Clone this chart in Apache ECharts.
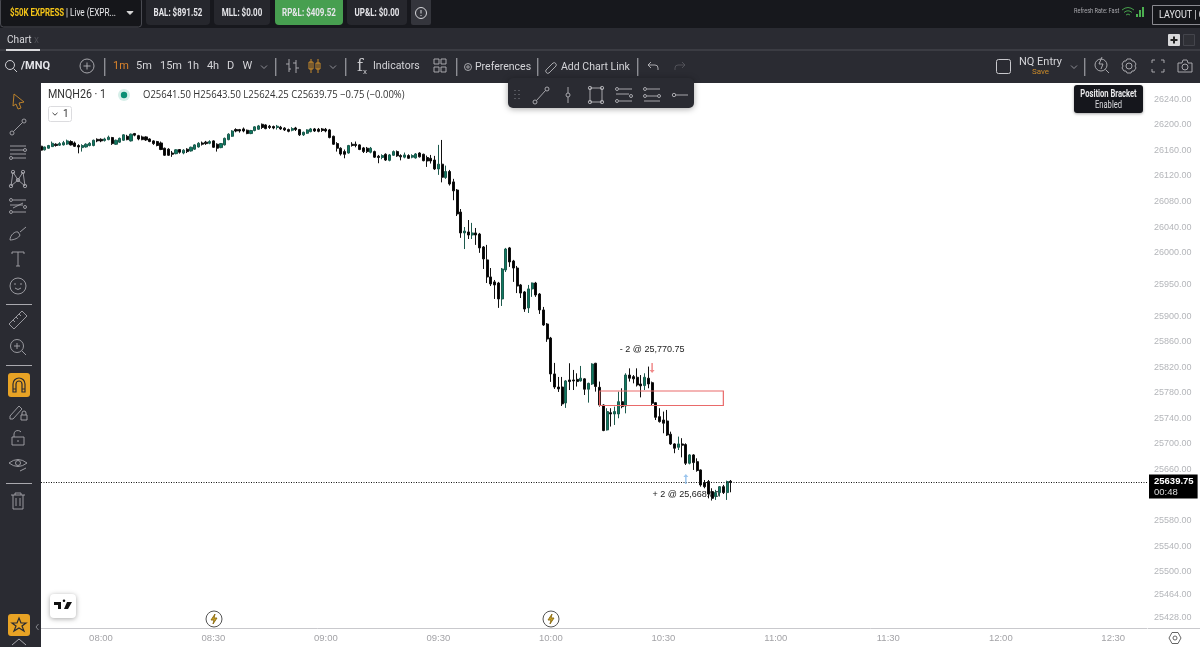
<!DOCTYPE html>
<html><head><meta charset="utf-8">
<style>html,body{margin:0;padding:0;background:#fff;overflow:hidden}#c{width:1200px;height:647px}</style>
<script src="https://cdn.jsdelivr.net/npm/echarts@6/dist/echarts.min.js"></script>
</head><body><div id="c"></div>
<script>
// ---- Chart data ----
const startMinute = 464; // 07:44
const slotCount = 296;
const opens = [26166.75,26161,26163.5,26166,26169.75,26168.25,26168.75,26170,26174,26171.75,26167.75,26164.5,26165.5,26167.75,26167.75,26177.5,26177.5,26175.5,26177,26180.25,26169.75,26173,26176,26182.25,26175,26186.5,26183.25,26181.25,26181.25,26178,26175,26174,26171.75,26163.5,26162,26156,26155,26161.5,26156,26162,26159.25,26162,26165.5,26171.75,26173,26171.25,26175,26169.75,26164.5,26168.75,26177,26182.25,26192.75,26192.75,26193.75,26191.75,26186.5,26191.25,26193.25,26201,26200,26198,26197.5,26196,
26196.5,26195,26192.75,26191.75,26195.25,26192.75,26184.5,26187,26189.5,26193.75,26193.25,26193.75,26193.25,26192.25,26182.25,26170.75,26163.5,26158.25,26156,26169.75,26169.75,26168.75,26164,26163.5,26157.25,26158.25,26151,26149,26154,26144.5,26152.5,26158.25,26152,26149.5,26152,26149.5,26148.25,26156,26154,26149,26147.75,26145,26131,26138.5,26117.5,26127,26110.75,
26098,26063.5,26030.75,26032.25,26027.5,26030.75,26029,26008.75,25988.5,25961.75,25954,25952.25,25927.25,25972.75,26007.25,25986.75,25975.75,25949.25,25938.25,25913.25,25943,25952.25,25935,25910,25888,25866,25809.75,25789.25,25789.25,25764.25,
25800.25,25800.25,25801.25,25798.75,25802,25785.75,25794,25826.5,25788.75,25761,25722,25749,25747,25747,25766.25,25759.5,25808,25805.5,25804.5,25794,25791.5,25803,25796,25764.75,25742.75,25737.5,25736,25715.25,25700,25694.75,25700,25699,25669.75,25682.75,25672.25,25659.25,25639.5,25641,25625.25,25617.5,25623.75,25633,25623.75,25641.5];
const closes = [26160.5,26165.5,26167.75,26171.25,26167.75,26170.75,26172.25,26175,26168.75,26166.5,26165.5,26167.75,26169.75,26171.25,26176,26175,26175,26178,26180.75,26170.75,26176,26179,26184.5,26177,26185.5,26184,26178,26177,26176.5,26174,26170.75,26167.75,26161.5,26152.5,26152.5,26154,26161,26157.25,26160.5,26158.25,26165,26168.75,26171.25,26169.75,26170.75,26174,26165,26163.5,26170.75,26179,26185.5,26190.5,26190.5,26190.5,26190.5,26186.5,26191.25,26197,26198.5,26196,26194.25,26196,26195.25,26198,
26193.75,26192.25,26190,26194.25,26192.75,26184.5,26188.5,26192.25,26193.75,26190.5,26190,26191.25,26190.5,26180.25,26169.75,26163.5,26154.5,26154,26167.75,26167.75,26167.75,26161.5,26158.25,26158.25,26163.5,26149.5,26149,26152,26145,26153,26158.25,26151.5,26150,26153,26147.75,26152,26154.5,26150,26144,26143.5,26143.5,26131,26138.5,26118,26127,26107.5,26096.75,
26060.5,26030.75,26033.75,26027.5,26030.75,26027.5,26007.25,25990,25961.75,25950.75,25949.25,25927.25,25974.25,26005.5,25985.25,25975.75,25947.5,25936.5,25911.5,25943,25952.25,25933.5,25910,25886.5,25864.5,25809.75,25789.25,25786.25,25762.75,25798.75,
25797.75,25798.75,25797.75,25803,25785.75,25795,25825.25,25790,25761,25721,25750.75,25747,25750.75,25766.25,25758.5,25808,25803,25802,25792.5,25791,25804.5,25794,25763.75,25741.75,25735,25732.5,25714,25700,25693.25,25700,25698,25669.75,25682.75,25670.75,25658.25,25635.75,25633,25621.5,25614.75,25623.75,25633,25623.75,25641,25639.75];
const lows = [26159.25,26160,26163,26165.5,26166,26167,26167.75,26168.75,26167.75,26165.5,26155.5,26158.25,26164.5,26166.5,26166.5,26173,26173,26174,26176,26168.75,26168.75,26172,26175,26176,26174,26182.25,26176,26176,26175,26173,26168.75,26166.5,26160.5,26151.5,26151.5,26150,26154,26155,26154,26156,26158.25,26161,26164.5,26167.75,26168.75,26169.75,26164,26158.25,26163.5,26167.75,26176,26181.25,26188.5,26188,26188.5,26185.5,26185.5,26190,26192.25,26193.75,26193.25,26193.75,26193.25,26192.75,
26192.25,26190.5,26188.5,26190,26190.5,26182.75,26182.75,26186,26188.5,26189,26188.5,26189,26188.5,26179,26168.75,26158.25,26152,26147.75,26155,26166,26165,26160.5,26156,26156,26155.5,26148.25,26140,26146.25,26143.5,26143,26151.5,26150,26144.5,26147.75,26146.75,26147.75,26147.25,26149,26143,26134.25,26139.5,26129.5,26121.75,26110,26115.5,26105,26082,
26057.25,26023,26005.5,26021.25,26021.25,26012,25999.5,25974.25,25952.25,25947.5,25927.25,25913.25,25916.25,25969.5,25977.5,25954,25936.5,25928.75,25907,25905.25,25930.5,25930.5,25903.75,25885,25860,25797.25,25786.25,25781.5,25759.5,25756.5,
25784.5,25784.5,25790,25797.75,25776.75,25764.75,25792.5,25782,25758.5,25720,25721,25727.25,25729.75,25740.25,25756,25748,25797.75,25795,25790,25773,25784.5,25787.25,25761,25737.5,25733.5,25716.75,25712.5,25698.5,25685.5,25690.5,25679,25667,25668,25659.25,25656.5,25633,25630.5,25614.75,25611.25,25612.25,25617.5,25621.5,25612.25,25624.25];
const highs = [26167.75,26166,26168.75,26174,26171.25,26173,26175,26177,26176,26174,26169.75,26169.75,26171.25,26173,26177,26179,26179,26180,26183.25,26181.25,26177,26180.25,26185.5,26184.5,26186.5,26187.5,26184.5,26183.25,26182.25,26179,26176,26175,26174,26164.5,26163.5,26159.25,26162,26162,26162,26163.5,26166,26169.75,26173,26174,26175,26176,26176,26171.25,26171.75,26180.25,26187,26191.75,26194.75,26193.75,26196,26192.75,26192.25,26198,26200,26202.25,26201,26200,26199,26200,
26198.5,26196.5,26194.25,26196.5,26197,26193.75,26189.5,26193.25,26195.25,26195.25,26195.25,26195.25,26195.25,26193.75,26183.25,26173,26165,26161.5,26168.75,26173,26174,26169.75,26165.5,26165.5,26165.5,26159.75,26153,26154,26155.5,26154.5,26160,26160,26154,26156.75,26154,26154,26156,26157.25,26155,26152,26153,26151.5,26168.75,26176.5,26136.25,26129.5,26115.5,
26099.5,26068.25,26040,26051,26046.5,26038.5,26030.75,26010.25,26012,25975.75,25957,25954,25975.75,26007.25,26008.75,25988.5,25979,25950.75,25939.75,25949.25,25953,25954,25936.5,25914.75,25889.5,25867.75,25827,25805,25805,25800.25,
25826.5,25816,25810.75,25822.25,25803,25796,25826.5,25827,25797.75,25762,25756,25756,25758.5,25782,25787.25,25810.75,25818.5,25808,25818.5,25808,25810.75,25821.25,25797.75,25765,25756,25750.75,25753.25,25719.25,25701,25711.5,25709,25701,25684,25684,25677.5,25660,25643.5,25643.5,25630.5,25628,25634,25635.75,25642.5,25643.5];
const yTicks = [26240,26200,26160,26120,26080,26040,26000,25950,25900,25860,25820,25780,25740,25700,25660,25580,25540,25500,25464,25428];
const lastPrice = 25639.75;
const lastCountdown = '00:48';
const zoneTop = 25783, zoneBottom = 25760.25, zoneStartIndex = 149, zoneEndIndex = 182;
const sellIndex = 163, buyIndex = 172;
const sellArrowPrice = 25819, buyArrowPrice = 25645;
const sellLabel = '- 2 @ 25,770.75', buyLabel = '+ 2 @ 25,668.00';
const sellLabelPrice = 25847.25, buyLabelPrice = 25621.5;

const categories = [];
for (let i = 0; i < slotCount; i++) {
  const m = startMinute + i;
  categories.push(String(Math.floor(m / 60)).padStart(2, '0') + ':' + String(m % 60).padStart(2, '0'));
}
const candleData = opens.map((o, i) => [o, closes[i], lows[i], highs[i]]);

// ---- Interface chrome helpers ----
const UI = 'Roboto, sans-serif';
const NARROW = 0.76;
const g = [];
let icoCount = 0;
const rect = (x, y, w, h, fill, o = {}) => g.push({type:'rect', z:o.z||100, silent:true, shape:{x,y,width:w,height:h,r:o.r||0}, style:{fill, stroke:o.stroke||null, lineWidth:o.lw||1, shadowBlur:o.blur||0, shadowColor:o.blur?'rgba(0,0,0,.35)':undefined, shadowOffsetY:o.blur?1:0}});
const txt = (x, y, s, o = {}) => g.push({type:'text', z:o.z||101, silent:true, x, y, scaleX:o.sx||1, style:{text:s, fill:o.c||'#d8d8dc', font:(o.w||'normal')+' '+(o.s||11)+'px '+(o.f||UI), textAlign:o.a||'left', textVerticalAlign:'middle'}});
const ico = (x, y, d, o = {}) => {
  const name = 'uiIcon' + (icoCount++);
  echarts.graphic.registerShape(name, echarts.graphic.extendPath(d, {}));
  g.push({type:name, z:o.z||101, silent:true, x, y, style:{fill:o.fill||'none', stroke:o.c===null?'none':(o.c||'#a6a6ab'), lineWidth:o.lw||0.9}});
};
const cc = (x, y, r) => `M${x-r},${y}a${r},${r} 0 1,0 ${2*r},0a${r},${r} 0 1,0 ${-2*r},0`;

const DARK = '#17181d', PANEL = '#2a2b32', PILL = '#26272d', SOFT = '#b4b4b9';
rect(0, 0, 1200, 28, DARK);
rect(0, 28, 1200, 55, PANEL);
rect(0, 49, 1200, 2, '#3b3c43');
rect(0, 83, 41, 564, PANEL);
// account bar
rect(0.5, -2, 141, 29, '#15161a', {stroke:'#4a4b52', r:3});
txt(10, 13, '$50K EXPRESS', {c:'#f5c518', w:'bold', s:10.5, sx:0.75});
txt(66, 13, '| Live (EXPR...', {c:'#e8e8ea', s:10.5, sx:0.78});
ico(130, 13, 'M-3,-1.5L3,-1.5L0,1.5Z', {c:'#ddd', fill:'#ddd'});
[[146,64,'BAL: $891.52'],[214,56,'MLL: $0.00'],[275,68,'RP&L: $409.52'],[347,60,'UP&L: $0.00']].forEach((p, i) => {
  rect(p[0], -3, p[1], 28, i === 2 ? '#479f50' : PILL, {r:4});
  txt(p[0] + p[1] / 2, 13, p[2], {a:'center', c:'#e6e6ea', w:'bold', s:10.5, sx:NARROW});
});
rect(411, -3, 20, 28, '#34353c', {r:2});
ico(421, 13, cc(0,0,5.5)+'M0,-3V0.5M0,2V3', {c:'#e6e6ea'});
txt(1074, 11, 'Refresh Rate: Fast', {s:8, c:'#a9a9ae', sx:0.7});
ico(1128, 12, 'M-6,-2Q0,-7 6,-2M-4,0.5Q0,-3 4,0.5M-2,3Q0,1 2,3', {c:'#4caf50'});
ico(1140, 12, 'M-3,5V2M0,5V-2M3,5V-5', {c:'#4caf50', lw:2});
rect(1152.5, 5.5, 60, 19, '#15161a', {stroke:'#8a8a90'});
txt(1159, 15, 'LAYOUT | C', {c:'#e8e8ea', s:11, sx:0.82});
// tab row
txt(7, 40, 'Chart', {c:'#d8d8dc', s:11.5, sx:0.88});
txt(34, 40, 'x', {c:'#4a4b52', s:10});
rect(6, 49, 34, 2, '#d9d9dc');
rect(1168, 34, 12, 12, '#d8d8da', {r:1});
ico(1174, 40, 'M-3.5,0H3.5M0,-3.5V3.5', {c:'#222', lw:2});
rect(1183.5, 34.5, 11, 11, '#2f3036', {stroke:'#44454c'});
// toolbar
ico(11, 66, cc(-1,-1,4.5)+'M2.5,2.5L6,6', {c:'#e0e0e4'});
txt(21, 66, '/MNQ', {c:'#e4e4e8', w:'bold', s:11});
ico(87, 66, cc(0,0,7)+'M-3.5,0H3.5M0,-3.5V3.5', {c:SOFT});
[104,275,345,456,537,637,1084].forEach(x => rect(x, 58, 1.4, 18, '#8d8e94'));
[['1m',121,'#d9822b'],['5m',144],['15m',171],['1h',193],['4h',213],['D',230.5],['W',247.5]].forEach(p => txt(p[1], 66, p[0], {a:'center', c:p[2]||'#d4d4d8', s:11}));
[264,333,1074].forEach(x => ico(x, 67, 'M-3,-1.5L0,1.5L3,-1.5', {c:'#9a9aa0'}));
ico(292, 66, 'M-3,-7V6M-3,-2H-6M-3,3H-1M4,-6V7M4,-3H1M4,2H7', {c:SOFT});
ico(314, 66, 'M-3,-7V7M-5,-4h4v7h-4zM4,-7V7M2,-3h4v6h-4z', {c:'#d9962b'});
txt(360, 67, 'f', {c:'#c8c8cc', s:16, f:'"DejaVu Serif", serif', a:'center'});
txt(365, 72, 'x', {c:'#c8c8cc', s:8, a:'center'});
txt(373, 66, 'Indicators', {c:'#d4d4d8', s:10.5});
ico(440, 66, 'M-6,-7h5v5h-5zM1,-7h5v5h-5zM-6,1h5v5h-5zM1,1h5v5h-5z', {c:SOFT});
ico(468, 67, cc(0,0,3.5)+cc(0,0,1.2), {c:SOFT});
txt(475, 67, 'Preferences', {c:'#d4d4d8', s:10.5});
ico(551, 67, 'M-5,3L2,-4a2.2,2.2 0 0 1 3,3L-2,6a2.2,2.2 0 0 1 -3,-3Z', {c:SOFT});
txt(561, 67, 'Add Chart Link', {c:'#d4d4d8', s:10.5});
ico(653, 66, 'M-5,-1H2a3,3 0 0 1 3,3V4M-5,-1L-2,-4M-5,-1L-2,2', {c:'#b8b8bc'});
ico(680, 66, 'M5,-1H-2a3,3 0 0 0 -3,3V4M5,-1L2,-4M5,-1L2,2', {c:'#55565c'});
rect(996.5, 59.5, 14, 14, PANEL, {stroke:'#c8c8cc', r:2});
txt(1040.5, 62, 'NQ Entry', {a:'center', c:'#d4d4d8', s:11});
txt(1040.5, 72, 'Save', {a:'center', c:'#c98a2a', s:8});
ico(1102, 65, cc(-1,0,6)+'M3.5,4.5L7,8M0,-8L-3,-1H1L-1,4', {c:SOFT});
ico(1129, 66, cc(0,0,3)+'M-2,-7H2L3,-5L5,-5L7,-2L6,0L7,2L5,5L3,5L2,7H-2L-3,5L-5,5L-7,2L-6,0L-7,-2L-5,-5L-3,-5Z', {c:SOFT});
ico(1158, 66, 'M-6,-3V-6H-3M3,-6H6V-3M6,3V6H3M-3,6H-6V3', {c:SOFT});
ico(1185, 66, 'M-7,-3H-3L-2,-6H2L3,-3H7V6H-7Z'+cc(0,1,3), {c:SOFT});
// side tools
ico(18, 101, 'M-4,-7L6,1L1,2L3,7L0,8L-2,3L-5,5Z', {c:'#c98a2a'});
ico(18, 127, cc(-6,6,2)+cc(6,-6,2)+'M-4.5,4.5L4.5,-4.5');
ico(18, 152, 'M-8,-6H8M-8,-2H6M-8,2H8M-6,6H8'+cc(7,-2,1.5)+cc(-7,6,1.5));
ico(18, 179, cc(-7,7,1.7)+cc(-5,-7,1.7)+cc(5,-7,1.7)+cc(7,7,1.7)+cc(0,1,1.7)+'M-7,7L-5,-7L0,1L5,-7L7,7M-7,7L0,1L7,7');
ico(18, 206, cc(-7,-6,1.5)+cc(-7,6,1.5)+cc(7,1,1.5)+'M-5,-6H8M-8,-1H5M-5,6H8M-5,2L5,-3');
ico(18, 233, 'M-8,7C-8,2 -3,-2 0,-1L2,2C1,5 -4,7 -8,7ZM2,-1L8,-6');
ico(18, 259, 'M-6,-7H6M0,-7V7M-2,7H2M-6,-7V-5M6,-7V-5');
ico(18, 286, cc(0,0,8)+'M-3,-3V-1M3,-3V-1M-3,2Q0,5 3,2');
[304,365,483].forEach(y => rect(6, y, 26, 1, '#a9a9ae'));
ico(18, 320, 'M-9,4L4,-9L9,-4L-4,9ZM-5,0L-3,2M-2,-3L0,-1M1,-6L3,-4');
ico(18, 347, cc(-1,-1,6.5)+'M4,4L8,8M-4,-1H2M-1,-4V2');
rect(8, 373, 22, 24, '#e8a325', {r:3});
ico(19, 385, 'M-6,7V-1A6,6 0 0 1 6,-1V7H3V-1A3,3 0 0 0 -3,-1V7ZM-6,4H-3M3,4H6', {c:'#2a2b32', lw:1.2});
ico(18, 412, 'M-8,4L1,-6L4,-3L-5,7L-8,7ZM3,3H9V8H3ZM4,3V1A2,2 0 0 1 8,1V3');
ico(18, 438, 'M-6,-1H6V7H-6ZM-4,-1V-4A4,4 0 0 1 3,-6M0,2V4');
ico(18, 465, 'M-9,-2Q0,-9 9,-2Q0,5 -9,-2Z'+cc(0,-2,2.5)+'M2,6L8,3');
ico(18, 501, 'M-7,-6H7M-3,-6V-8H3V-6M-5,-6V8H5V-6M-2,-3V5M2,-3V5');
rect(8, 614, 22, 22, '#e8a325', {r:3});
ico(19, 625, 'M0,-7L2,-2H7L3,1L5,6L0,3L-5,6L-3,1L-7,-2H-2Z', {c:'#2a2b32', lw:1.2});
ico(37, 627, 'M1.5,-3L-1,0L1.5,3', {c:'#8d8e94'});
ico(19, 645, 'M-7,0L0,-6L7,0', {c:SOFT});
// drawing toolbar
rect(508, 78, 186, 30, PANEL, {r:5, blur:6});
ico(517, 95, 'M-2,-5V-4M2,-5V-4M-2,-1V0M2,-1V0M-2,3V4M2,3V4', {c:'#66676d', lw:1.5});
ico(541, 95, cc(-6,7,2)+cc(6,-6,2)+'M-4.5,5.5L4.5,-4.5', {c:SOFT});
ico(568, 95, 'M0,-8V-2M0,2V8'+cc(0,0,2), {c:SOFT});
ico(596, 95, 'M-6,-7H6V7H-6Z'+cc(-6,-7,1.7)+cc(6,-7,1.7)+cc(-6,7,1.7)+cc(6,7,1.7), {c:SOFT});
ico(624, 95, cc(-7,-6,1.5)+cc(-7,6,1.5)+cc(7,1,1.5)+'M-5,-6H8M-8,-1H5M-5,6H8', {c:SOFT});
ico(652, 95, cc(-7,-6,1.5)+cc(-7,1,1.5)+cc(7,1,1.5)+'M-5,-6H8M-5,1H5M-8,6H8', {c:SOFT});
ico(680, 95, cc(-6,0,1.7)+'M-4,0H8', {c:SOFT});
// legend
txt(48, 95, 'MNQH26 · 1', {c:'#333', s:12, z:90, sx:0.89});
g.push({type:'circle', z:90, silent:true, shape:{cx:124,cy:95,r:6}, style:{fill:'#d7efe9'}});
g.push({type:'circle', z:90, silent:true, shape:{cx:124,cy:95,r:3.2}, style:{fill:'#0c8f74'}});
txt(143, 95, 'O25641.50 H25643.50 L25624.25 C25639.75 −0.75 (−0.00%)', {c:'#333', s:10.2, f:'"Open Sans", sans-serif', z:90, sx:0.932});
rect(48.5, 106.5, 23, 15, '#fff', {stroke:'#dcdcdf', r:2, z:90});
ico(55, 114, 'M-2.5,-1.2L0,1.2L2.5,-1.2', {c:'#333', z:91});
txt(63, 114, '1', {c:'#333', s:10, z:91});
// tooltip
rect(1074, 85, 69, 28, '#15161c', {r:3, blur:3});
txt(1108.5, 94, 'Position Bracket', {a:'center', c:'#e8e8ea', w:'bold', s:10, sx:NARROW});
txt(1108.5, 105, 'Enabled', {a:'center', c:'#d8d8dc', s:10, sx:NARROW});
// bottom chart furniture
rect(50, 594, 26, 24, '#fff', {r:4, blur:5, z:90});
ico(63, 606, 'M-9,-4H-2V3H-5V-1H-9ZM1,-4a1.3,1.3 0 1,1 .01,0ZM4,-4H9L5,3H1Z', {c:null, fill:'#111', z:91});
[214,551].forEach(x => {
  g.push({type:'circle', z:90, silent:true, shape:{cx:x,cy:619,r:8}, style:{fill:'#fff', stroke:'#555', lineWidth:1}});
  ico(x, 619, 'M1,-5L-3,1H0L-1,5L3,-1H0Z', {c:'#8a6a10', fill:'#c9a227', z:91});
});
rect(1148, 628, 52, 1, '#c9c9cd');
ico(1175, 638, cc(0,0,2)+'M-3,-5.5H3L6,0L3,5.5H-3L-6,0Z', {c:'#555'});

const chart = echarts.init(document.getElementById('c'), null, {renderer:'canvas'});
chart.setOption({
  animation: false,
  backgroundColor: '#fff',
  grid: {left: 41, right: 53, top: 83, bottom: 19, containLabel: false},
  xAxis: {
    type: 'category', data: categories, boundaryGap: false,
    axisLine: {lineStyle: {color: '#c9c9cd'}},
    axisTick: {show: false},
    splitLine: {show: false},
    axisLabel: {
      color: '#a3a3a7', fontSize: 9.5, fontFamily: 'Liberation Sans', margin: 5, hideOverlap: false,
      interval: (i, v) => v.endsWith(':00') || v.endsWith(':30')
    }
  },
  yAxis: {
    type: 'value', position: 'right', min: 25411.5, max: 26265.75, scale: true,
    axisLine: {show: false}, axisTick: {show: false}, splitLine: {show: false},
    axisLabel: {color: '#b4b6ba', fontSize: 9, fontFamily: 'Liberation Sans', margin: 7, customValues: yTicks, formatter: v => v.toFixed(2)}
  },
  series: [
    {
      type: 'line', data: [], z: 1, silent: true,
      markPoint: {
        z: 1, silent: true, symbol: 'circle', symbolSize: 0,
        label: {show: true, position: 'inside', color: '#222', fontSize: 9, fontFamily: 'Liberation Sans', formatter: p => p.name},
        data: [
          {name: sellLabel, coord: [categories[sellIndex], sellLabelPrice]},
          {name: buyLabel, coord: [categories[buyIndex], buyLabelPrice]}
        ]
      }
    },
    {
      type: 'candlestick', data: candleData, barWidth: 2.6, z: 2, silent: true, clip: true,
      itemStyle: {color: '#0d7a62', color0: '#000', borderColor: '#1d5a4d', borderColor0: '#111', borderWidth: 1},
      markArea: {
        silent: true, z: 3,
        itemStyle: {color: 'rgba(255,255,255,0)', borderColor: '#e96a6a', borderWidth: 1.2},
        data: [[{xAxis: categories[zoneStartIndex], yAxis: zoneTop}, {xAxis: categories[zoneEndIndex], yAxis: zoneBottom}]]
      },
      markLine: {
        silent: true, symbol: 'none', z: 4,
        lineStyle: {color: '#111', type: [1, 1.5], width: 1},
        label: {
          show: true, position: 'end', distance: 2, offset: [0, 4], formatter: '{a|' + lastPrice.toFixed(2) + '}\n{b|' + lastCountdown + '}',
          backgroundColor: '#000', padding: [1, 4, 1, 5], align: 'left',
          rich: {a: {color: '#fff', fontSize: 9.5, fontWeight: 'bold', fontFamily: 'Liberation Sans', lineHeight: 11}, b: {color: '#ddd', fontSize: 9.5, fontFamily: 'Liberation Sans', lineHeight: 11}}
        },
        data: [{yAxis: lastPrice}]
      },
      markPoint: {
        silent: true, z: 5, label: {show: false},
        symbol: 'path://M5,0 L10,6 L6.5,6 L6.5,20 L3.5,20 L3.5,6 L0,6 Z', symbolKeepAspect: false,
        data: [
          {coord: [categories[sellIndex], sellArrowPrice], symbolSize: [5, 10], symbolRotate: 180, itemStyle: {color: '#f08a8a'}},
          {coord: [categories[buyIndex], buyArrowPrice], symbolSize: [5, 10], itemStyle: {color: '#9cc6ee'}}
        ]
      }
    }
  ],
  graphic: {elements: g}
});
</script></body></html>
